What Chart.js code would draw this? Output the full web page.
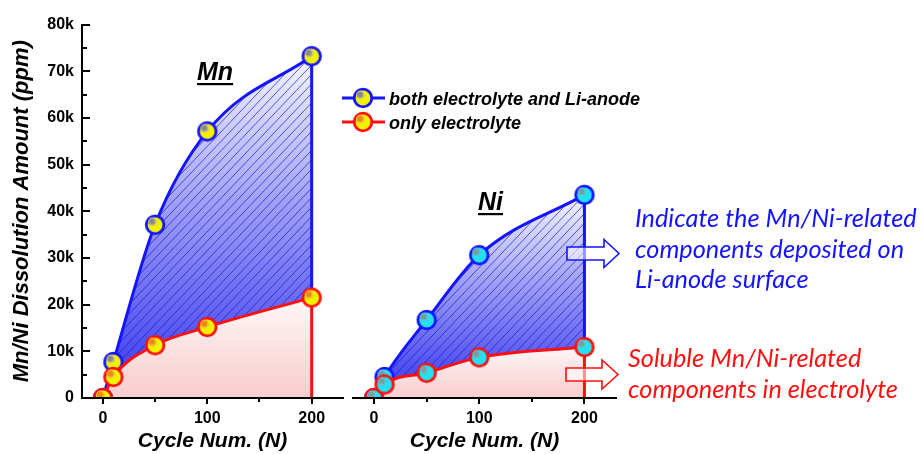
<!DOCTYPE html>
<html>
<head>
<meta charset="utf-8">
<script src="https://cdn.jsdelivr.net/npm/chart.js@4/dist/chart.umd.min.js"></script>
<style>
  html, body { margin: 0; padding: 0; background: #fff; }
  #wrap { position: relative; width: 922px; height: 454px; overflow: hidden; }
  #wrap canvas { position: absolute; left: 0; top: 0; }
</style>
</head>
<body>
<div id="wrap">
  <canvas id="mnChart" width="922" height="454"></canvas>
  <canvas id="niChart" width="922" height="454"></canvas>
</div>
<script>
// Dissolved transition-metal amounts (ppm) versus cycle number
const cycles = [0, 10, 50, 100, 200];
const mnBoth = [0, 7700, 37100, 57100, 73200];   // electrolyte + Li-anode
const mnOnly = [0, 4500, 11300, 15200, 21500];   // electrolyte only
const niBoth = [0, 4500, 16700, 30600, 43500];
const niOnly = [0, 2900, 5400, 8700, 10900];

const xMajorTicks = [0, 100, 200];
const xMinorTicks = [50, 150];
const yMax = 80000;
const yStep = 10000;
const yMinorStep = 5000;

const seriesLabels = ['both electrolyte and Li-anode', 'only electrolyte'];
const panelTitles = ['Mn', 'Ni'];
const yTitle = 'Mn/Ni Dissolution Amount (ppm)';
const xTitle = 'Cycle Num. (N)';
const noteDeposited = ['Indicate the Mn/Ni-related', 'components deposited on', 'Li-anode surface'];
const noteSoluble = ['Soluble Mn/Ni-related', 'components in electrolyte'];

const FONT = '"Liberation Sans", Arial, sans-serif';
const NOTE_FONT = 'Lato, "Open Sans", sans-serif';
const BLUE = '#1414ff';
const RED = '#ff1010';

// Glossy ball marker rendered once and reused as a point style
function makeMarker(fill, ring, spot, spotRing) {
  const s = 26, m = s / 2;
  const c = document.createElement('canvas');
  c.width = s; c.height = s;
  const g = c.getContext('2d');
  g.beginPath();
  g.arc(m, m, 8.8, 0, Math.PI * 2);
  g.fillStyle = fill;
  g.fill();
  g.lineWidth = 2.8;
  g.strokeStyle = ring;
  g.stroke();
  g.beginPath();
  g.arc(m - 2.6, m - 3.0, 4.4, 0, Math.PI * 2);
  g.fillStyle = spotRing;
  g.fill();
  g.beginPath();
  g.arc(m - 3.0, m - 3.3, 2.9, 0, Math.PI * 2);
  g.fillStyle = spot;
  g.fill();
  return c;
}

const markers = {
  mnBoth: makeMarker('#f2f200', BLUE, '#8a8a8a', '#cfc86a'),
  mnOnly: makeMarker('#f2f200', RED, '#f08a12', '#f6c23a'),
  niBoth: makeMarker('#22e2f2', BLUE, '#6f9ea4', '#5cc6d2'),
  niOnly: makeMarker('#22e2f2', RED, '#7a9ea2', '#5cc6d2')
};

// Shaded + hatched band between the two curves
function depositFill(values) {
  let cache = null;
  return ({ chart }) => {
    const { chartArea, scales, width, height } = chart;
    if (!chartArea) return 'rgba(0,0,0,0)';
    const yTop = scales.y.getPixelForValue(Math.max(...values));
    const yBot = scales.y.getPixelForValue(0);
    const key = [width, height, yTop, yBot].join();
    if (cache && cache.key === key) return cache.pattern;
    const off = document.createElement('canvas');
    off.width = width; off.height = height;
    const g = off.getContext('2d');
    const grad = g.createLinearGradient(0, yTop, 0, yBot);
    grad.addColorStop(0, '#f6f6ff');
    grad.addColorStop(0.45, '#9c9cf4');
    grad.addColorStop(1, '#3434ee');
    g.fillStyle = grad;
    g.fillRect(0, 0, width, height);
    g.strokeStyle = 'rgba(24,24,215,0.7)';
    g.lineWidth = 1;
    g.beginPath();
    for (let x0 = -height; x0 < width; x0 += 9) {
      g.moveTo(x0, height);
      g.lineTo(x0 + height * 0.95, 0);
    }
    g.stroke();
    const pattern = chart.ctx.createPattern(off, 'no-repeat');
    cache = { key, pattern };
    return pattern;
  };
}

// Soft pink wash under the electrolyte-only curve
function solubleFill(values) {
  return ({ chart }) => {
    const { chartArea, scales } = chart;
    if (!chartArea) return 'rgba(0,0,0,0)';
    const grad = chart.ctx.createLinearGradient(0, scales.y.getPixelForValue(Math.max(...values)), 0, scales.y.getPixelForValue(0));
    grad.addColorStop(0, '#fff7f7');
    grad.addColorStop(1, '#f9cccc');
    return grad;
  };
}

// Axis tick marks: x ticks outward, y ticks inward
const tickMarks = {
  id: 'tickMarks',
  afterDraw(chart) {
    const { ctx, chartArea: a, scales: { x, y } } = chart;
    ctx.save();
    ctx.strokeStyle = '#000';
    ctx.lineWidth = 2;
    ctx.beginPath();
    xMajorTicks.forEach(v => {
      const px = Math.round(x.getPixelForValue(v));
      ctx.moveTo(px, a.bottom); ctx.lineTo(px, a.bottom + 6);
    });
    xMinorTicks.forEach(v => {
      const px = Math.round(x.getPixelForValue(v));
      ctx.moveTo(px, a.bottom); ctx.lineTo(px, a.bottom + 4);
    });
    if (y.options.display) {
      for (let v = yMinorStep; v <= yMax; v += yMinorStep) {
        const py = Math.round(y.getPixelForValue(v));
        const len = v % yStep === 0 ? 8 : 5;
        ctx.moveTo(a.left, py); ctx.lineTo(a.left + len, py);
      }
    }
    ctx.stroke();
    ctx.restore();
  }
};

function drawPanelTitle(ctx, text, x, baseline) {
  ctx.save();
  ctx.font = `italic bold 25px ${FONT}`;
  ctx.fillStyle = '#000';
  ctx.textAlign = 'left';
  ctx.textBaseline = 'alphabetic';
  ctx.fillText(text, x, baseline);
  const w = ctx.measureText(text).width;
  ctx.fillRect(x, baseline + 3, w, 2.2);
  ctx.restore();
}

const mnDecor = {
  id: 'mnDecor',
  afterDraw(chart) {
    const ctx = chart.ctx;
    drawPanelTitle(ctx, panelTitles[0], 197, 80);
    // legend
    const rows = [
      { color: BLUE, mk: markers.mnBoth, y: 98 },
      { color: RED, mk: markers.mnOnly, y: 122 }
    ];
    ctx.save();
    rows.forEach((r, i) => {
      ctx.strokeStyle = r.color;
      ctx.lineWidth = 3;
      ctx.beginPath();
      ctx.moveTo(342, r.y); ctx.lineTo(385, r.y);
      ctx.stroke();
      ctx.drawImage(r.mk, 363 - r.mk.width / 2, r.y - r.mk.height / 2);
      ctx.font = `italic bold 18px ${FONT}`;
      ctx.fillStyle = '#000';
      ctx.textBaseline = 'alphabetic';
      ctx.fillText(seriesLabels[i], 389, r.y + 6.5);
    });
    ctx.restore();
  }
};

function blockArrow(ctx, x0, xHead, x1, yc, shaftHalf, headHalf, color) {
  ctx.save();
  ctx.beginPath();
  ctx.moveTo(x0, yc - shaftHalf);
  ctx.lineTo(xHead, yc - shaftHalf);
  ctx.lineTo(xHead, yc - headHalf);
  ctx.lineTo(x1, yc);
  ctx.lineTo(xHead, yc + headHalf);
  ctx.lineTo(xHead, yc + shaftHalf);
  ctx.lineTo(x0, yc + shaftHalf);
  ctx.closePath();
  ctx.fillStyle = 'rgba(255,255,255,0.55)';
  ctx.fill();
  ctx.lineWidth = 1.6;
  ctx.strokeStyle = color;
  ctx.stroke();
  ctx.restore();
}

function drawNote(ctx, lines, color, x, baseline, step) {
  ctx.save();
  ctx.font = `italic 25.3px ${NOTE_FONT}`;
  ctx.fillStyle = color;
  ctx.textAlign = 'left';
  ctx.textBaseline = 'alphabetic';
  lines.forEach((t, i) => ctx.fillText(t, x, baseline + i * step));
  ctx.restore();
}

const niDecor = {
  id: 'niDecor',
  afterDraw(chart) {
    const ctx = chart.ctx;
    drawPanelTitle(ctx, panelTitles[1], 478, 210);
    blockArrow(ctx, 567, 604, 619, 253.5, 6.5, 14, BLUE);
    blockArrow(ctx, 566, 602, 618, 374.5, 6.5, 14.5, RED);
    drawNote(ctx, noteDeposited, BLUE, 635, 227, 30.5);
    drawNote(ctx, noteSoluble, RED, 628, 367, 31);
  }
};

const CLIP = { left: 30, top: 30, right: 30, bottom: 0 };

function buildPanel(canvasId, both, only, mkBoth, mkOnly, padding, showY, decor) {
  const last = cycles.length - 1;
  const pts = arr => cycles.map((c, i) => ({ x: c, y: arr[i] }));
  return new Chart(document.getElementById(canvasId), {
    type: 'line',
    data: {
      datasets: [
        {
          label: seriesLabels[0], data: pts(both),
          borderColor: BLUE, borderWidth: 3,
          backgroundColor: depositFill(both), fill: '+1',
          pointStyle: mkBoth, pointRadius: 9, pointHoverRadius: 9,
          cubicInterpolationMode: 'monotone', order: 2, clip: CLIP
        },
        {
          label: seriesLabels[1], data: pts(only),
          borderColor: RED, borderWidth: 3,
          backgroundColor: solubleFill(only), fill: 'origin',
          pointStyle: mkOnly, pointRadius: 9, pointHoverRadius: 9,
          cubicInterpolationMode: 'monotone', order: 1, clip: CLIP
        },
        {
          label: 'gap', data: [{ x: cycles[last], y: only[last] }, { x: cycles[last], y: both[last] }],
          borderColor: BLUE, borderWidth: 3, pointRadius: 0, fill: false, tension: 0, order: 4, clip: CLIP
        },
        {
          label: 'base', data: [{ x: cycles[last], y: 0 }, { x: cycles[last], y: only[last] }],
          borderColor: RED, borderWidth: 3, pointRadius: 0, fill: false, tension: 0, order: 3, clip: CLIP
        }
      ]
    },
    options: {
      responsive: false,
      animation: false,
      devicePixelRatio: 1,
      events: [],
      layout: { padding },
      plugins: {
        legend: { display: false },
        tooltip: { enabled: false },
        filler: { drawTime: 'beforeDatasetsDraw' }
      },
      scales: {
        x: {
          type: 'linear', min: -20, max: 230,
          afterBuildTicks: s => { s.ticks = xMajorTicks.map(v => ({ value: v })); },
          afterFit: s => { s.height = 56; },
          grid: { display: false, drawTicks: false },
          border: { display: true, color: '#000', width: 2, z: 1 },
          ticks: { color: '#000', padding: 11, maxRotation: 0, autoSkip: false,
                   font: { family: FONT, size: 16, weight: 'bold' } },
          title: { display: true, text: xTitle, color: '#000', padding: { top: 0, bottom: 0 },
                   font: { family: FONT, size: 21, weight: 'bold', style: 'italic' } }
        },
        y: {
          min: 0, max: yMax, display: showY, position: 'left',
          afterFit: s => { s.width = showY ? 82 : 0; },
          grid: { display: false, drawTicks: false },
          border: { display: true, color: '#000', width: 2, z: 1 },
          ticks: { color: '#000', stepSize: yStep, padding: 8,
                   font: { family: FONT, size: 16, weight: 'bold' },
                   callback: v => (v === 0 ? '0' : v / 1000 + 'k') },
          title: { display: true, text: yTitle, color: '#000', padding: { top: 9, bottom: 0 },
                   font: { family: FONT, size: 22, weight: 'bold', style: 'italic' } }
        }
      }
    },
    plugins: [tickMarks, decor]
  });
}

buildPanel('mnChart', mnBoth, mnOnly, markers.mnBoth, markers.mnOnly,
           { left: 0, top: 24.5, right: 579, bottom: 0 }, true, mnDecor);
buildPanel('niChart', niBoth, niOnly, markers.niBoth, markers.niOnly,
           { left: 353, top: 24.5, right: 306, bottom: 0 }, false, niDecor);
</script>
</body>
</html>
